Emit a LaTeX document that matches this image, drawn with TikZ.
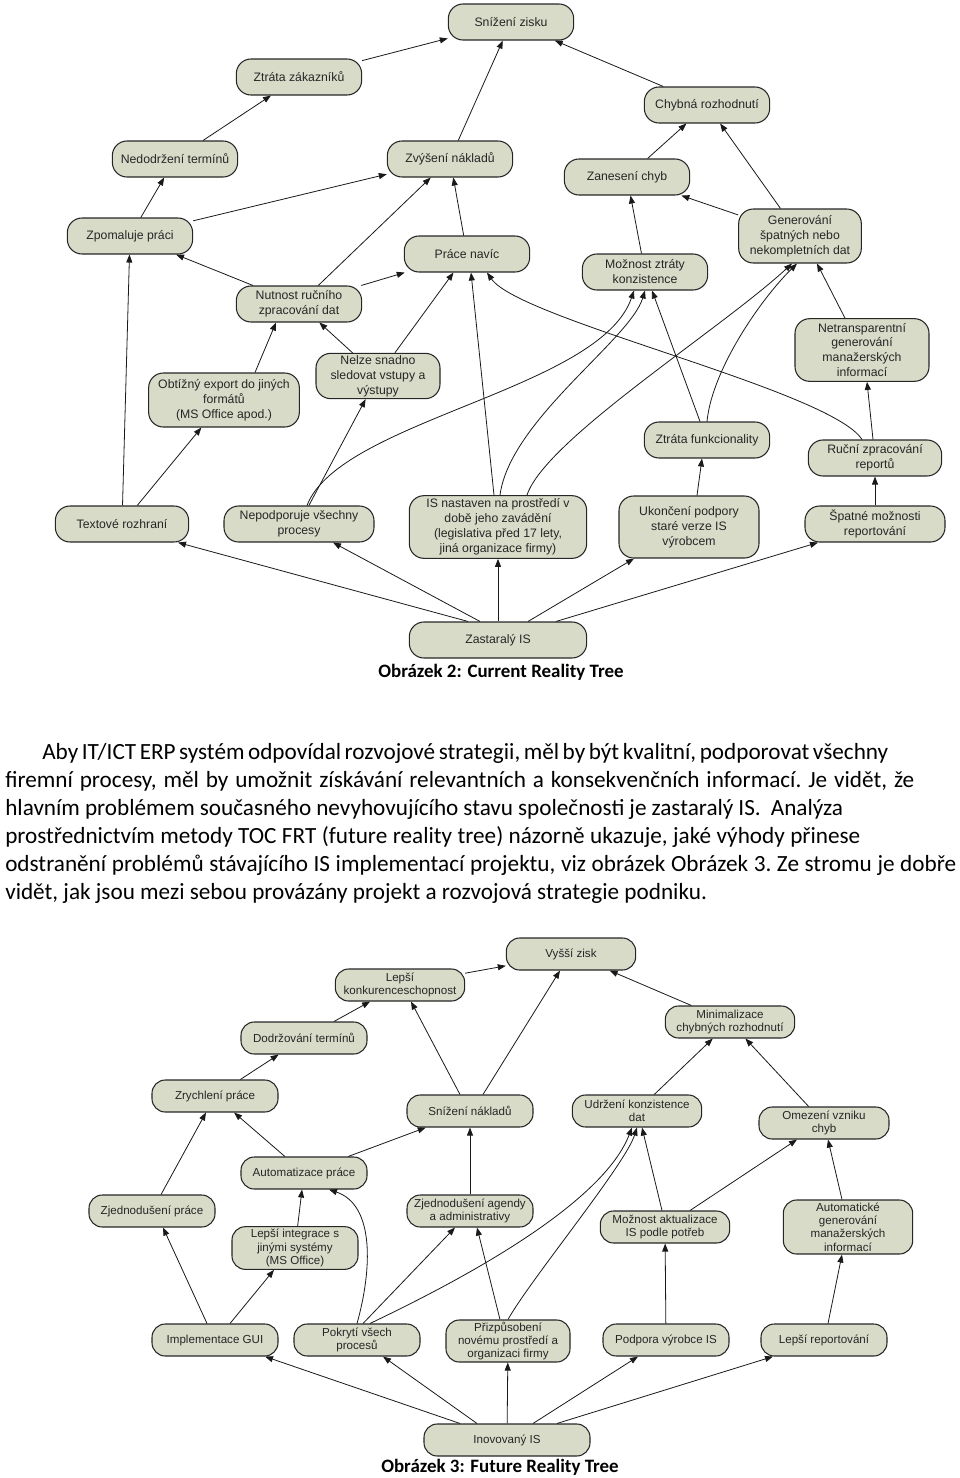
\documentclass[tikz,border=0pt]{standalone}
\usepackage{fontspec}
\setmainfont{Carlito}
\newfontfamily\arialfont{Liberation Sans}
\usetikzlibrary{arrows.meta,calc,positioning}
\definecolor{boxfill}{RGB}{217,219,201}
\tikzset{
	crt/.style={draw=black!85, line width=0.8pt, fill=boxfill, rounded corners=11pt,
		align=center, inner sep=1pt, minimum width=94pt, minimum height=27pt,
		text=black!85, font=\arialfont\fontsize{9.2}{11.2}\selectfont},
	frt/.style={crt, rounded corners=10pt, minimum width=94.5pt, minimum height=24pt,
		font=\arialfont\fontsize{8.7}{10}\selectfont},
	arr/.style={-{Triangle[length=6pt,width=4.5pt]}, line width=0.6pt, black!90},
	textline/.style={anchor=west, inner sep=0pt,
		font=\frenchspacing\fontsize{17.4}{21}\selectfont},
	figcap/.style={inner sep=0pt, font=\bfseries\fontsize{14.2}{17}\selectfont}
}
\begin{document}
\begin{tikzpicture}[x=0.75pt,y=-0.75pt]
	\useasboundingbox (0,0) rectangle (960,1478);

	% Current Reality Tree
	\node[crt] (zisk) at (511,22) {Snížení zisku};
	\node[crt] (zakaznici) at (299,77) {Ztráta zákazníků};
	\node[crt] (chybnarozh) at (707,105) {Chybná rozhodnutí};
	\node[crt] (nedodrzeni) at (175,159) {Nedodržení termínů};
	\node[crt] (naklady) at (450,159) {Zvýšení nákladů};
	\node[crt] (zaneseni) at (627,177) {Zanesení chyb};
	\node[crt] (zpomaluje) at (130,236) {Zpomaluje práci};
	\node[crt] (navic) at (467,254) {Práce navíc};
	\node[crt, minimum width=92pt, minimum height=40.5pt] (generovani) at (800,236) {Generování\\špatných nebo\\nekompletních dat};
	\node[crt] (konzistence) at (645,272) {Možnost ztráty\\konzistence};
	\node[crt] (rucni) at (299,304) {Nutnost ručního\\zpracování dat};
	\node[crt, minimum width=113pt, minimum height=40.5pt] (export) at (224,400) {Obtížný export do jiných\\formátů\\(MS Office apod.)};
	\node[crt, minimum width=93pt, minimum height=34pt, inner ysep=0pt] (sledovat) at (378,376) {Nelze snadno\\sledovat vstupy a\\výstupy};
	\node[crt, minimum width=100.5pt, minimum height=47pt, inner ysep=0pt] (netransp) at (862,350) {Netransparentní\\generování\\manažerských\\informací};
	\node[crt] (funkc) at (707,440) {Ztráta funkcionality};
	\node[crt, minimum width=100pt] (reporty) at (875,458) {Ruční zpracování\\reportů};
	\node[crt, minimum width=100pt] (textove) at (122,524) {Textové rozhraní};
	\node[crt, minimum width=112.5pt] (procesy) at (299,524) {Nepodporuje všechny\\procesy};
	\node[crt, minimum width=133pt, minimum height=47pt, inner ysep=0pt] (prostredi) at (498,527) {IS nastaven na prostředí v\\době jeho zavádění\\(legislativa před 17 lety,\\jiná organizace firmy)};
	\node[crt, minimum width=105pt, minimum height=46.5pt] (podpora) at (689,527) {Ukončení podpory\\staré verze IS\\výrobcem};
	\node[crt, minimum width=105pt] (reportovani) at (875,524) {Špatné možnosti\\reportování};
	\node[crt, minimum width=133pt] (zastaraly) at (498,640) {Zastaralý IS};

	\draw[arr] (zakaznici) -- (zisk);
	\draw[arr] (naklady) -- (zisk);
	\draw[arr] (chybnarozh) -- (zisk);
	\draw[arr] (nedodrzeni) -- (zakaznici);
	\draw[arr] (zpomaluje) -- (nedodrzeni);
	\draw[arr] (zpomaluje) -- (naklady);
	\draw[arr] (rucni) -- (zpomaluje);
	\draw[arr] (rucni) -- (naklady);
	\draw[arr] (rucni) -- (navic);
	\draw[arr] (navic) -- (naklady);
	\draw[arr] (zaneseni) -- (chybnarozh);
	\draw[arr] (generovani) -- (chybnarozh);
	\draw[arr] (generovani) -- (zaneseni);
	\draw[arr] (konzistence) -- (zaneseni);
	\draw[arr] ($(export.north)+(31,0)$) -- ($(rucni.south)+(-23,0)$);
	\draw[arr] (sledovat) -- (rucni);
	\draw[arr] (sledovat) -- (navic);
	\draw[arr] (textove) -- (zpomaluje);
	\draw[arr] (textove) -- (export);
	\draw[arr] (procesy) -- (sledovat);
	\draw[arr] ($(procesy.north)+(8,0)$) .. controls (340,420) and (600,390) .. ($(konzistence.south)+(-11,0)$);
	\draw[arr] ($(prostredi.north)+(-4,0)$) -- ($(navic.south)+(4,0)$);
	\draw[arr] ($(prostredi.north)+(2,0)$) .. controls (510,420) and (630,340) .. (konzistence.south);
	\draw[arr] ($(prostredi.north)+(29,0)$) .. controls (545,440) and (720,330) .. ($(generovani.south)+(-8,0)$);
	\draw[arr] ($(funkc.north)+(-7,0)$) -- ($(konzistence.south)+(7,0)$);
	\draw[arr] (funkc.north) .. controls (712,370) and (760,300) .. ($(generovani.south)+(-3,0)$);
	\draw[arr] ($(reporty.north)+(-13,0)$) .. controls (830,390) and (520,320) .. ($(navic.south)+(20,0)$);
	\draw[arr] ($(reporty.north)+(-2,0)$) -- ($(netransp.south)+(5,0)$);
	\draw[arr] ($(netransp.north)+(-17,0)$) -- ($(generovani.south)+(17,0)$);
	\draw[arr] (reportovani) -- (reporty);
	\draw[arr] ($(podpora.north)+(8,0)$) -- ($(funkc.south)+(-5,0)$);
	\draw[arr] ($(zastaraly.north)+(-30,0)$) -- ($(textove.south)+(56,0)$);
	\draw[arr] ($(zastaraly.north)+(-18,0)$) -- ($(procesy.south)+(34,0)$);
	\draw[arr] (zastaraly) -- (prostredi);
	\draw[arr] ($(zastaraly.north)+(30,0)$) -- ($(podpora.south)+(-55,0)$);
	\draw[arr] ($(zastaraly.north)+(58,0)$) -- ($(reportovani.south)+(-57,0)$);

	\node[figcap] (cap1) at (501,672) {Obrázek 2: Current Reality Tree};

	% text
	\node[textline] (r1) at (42,754) {\strut\makebox[634.5pt][s]{Aby IT/ICT ERP systém odpovídal rozvojové strategii, měl by být kvalitní, podporovat všechny}};
	\node[textline] (r2) at (5,782) {\strut\makebox[681.75pt][s]{firemní procesy, měl by umožnit získávání relevantních a konsekvenčních informací. Je vidět, že}};
	\node[textline] (r3) at (5,810) {\strut\makebox[628.5pt][s]{hlavním problémem současného nevyhovujícího stavu společnosti je zastaralý IS.~~Analýza}};
	\node[textline] (r4) at (5,838) {\strut\makebox[641.25pt][s]{prostřednictvím metody TOC FRT (future reality tree) názorně ukazuje, jaké výhody přinese}};
	\node[textline] (r5) at (5,866) {\strut\makebox[713.25pt][s]{odstranění problémů stávajícího IS implementací projektu, viz obrázek Obrázek 3. Ze stromu je dobře}};
	\node[textline] (r6) at (5,894) {\strut vidět, jak jsou mezi sebou provázány projekt a rozvojová strategie podniku.};

	% Future Reality Tree
	\node[frt, minimum width=97pt] (vyssi) at (571,954) {Vyšší zisk};
	\node[frt, minimum width=97pt] (konkurence) at (400,985) {Lepší\\konkurenceschopnost};
	\node[frt] (dodrzovani) at (304,1038) {Dodržování termínů};
	\node[frt, minimum width=97pt] (minimalizace) at (730,1022) {Minimalizace\\chybných rozhodnutí};
	\node[frt] (zrychleni) at (215,1096) {Zrychlení práce};
	\node[frt] (snizeni) at (470,1111) {Snížení nákladů};
	\node[frt, minimum width=97pt] (udrzeni) at (637,1111) {Udržení konzistence\\dat};
	\node[frt, minimum width=97.5pt] (omezeni) at (824,1123) {Omezení vzniku\\chyb};
	\node[frt] (automatizace) at (304,1173) {Automatizace práce};
	\node[frt] (zjedprace) at (152,1211) {Zjednodušení práce};
	\node[frt] (agenda) at (470,1211) {Zjednodušení agendy\\a administrativy};
	\node[frt, minimum height=32pt] (integrace) at (295,1248) {Lepší integrace s\\jinými systémy\\(MS Office)};
	\node[frt, minimum width=97pt] (aktualizace) at (665,1227) {Možnost aktualizace\\IS podle potřeb};
	\node[frt, minimum width=97pt, minimum height=40.5pt, inner ysep=0pt] (autogen) at (848,1227) {Automatické\\generování\\manažerských\\informací};
	\node[frt] (gui) at (215,1340) {Implementace GUI};
	\node[frt] (pokryti) at (357,1340) {Pokrytí všech\\procesů};
	\node[frt, minimum width=93pt, minimum height=31.5pt] (prizpusobeni) at (508,1341) {Přizpůsobení\\novému prostředí a\\organizaci firmy};
	\node[frt] (vyrobce) at (666,1340) {Podpora výrobce IS};
	\node[frt] (reportovani2) at (824,1340) {Lepší reportování};
	\node[frt, minimum width=124.5pt] (inovovany) at (507,1440) {Inovovaný IS};

	\draw[arr] (konkurence) -- (vyssi);
	\draw[arr] ($(snizeni.north)+(13,0)$) -- ($(vyssi.south)+(-11,0)$);
	\draw[arr] ($(snizeni.north)+(-10,0)$) -- ($(konkurence.south)+(11,0)$);
	\draw[arr] (minimalizace) -- (vyssi);
	\draw[arr] (dodrzovani) -- (konkurence);
	\draw[arr] (zrychleni) -- (dodrzovani);
	\draw[arr] (udrzeni) -- (minimalizace);
	\draw[arr] (omezeni) -- (minimalizace);
	\draw[arr] (zjedprace) -- (zrychleni);
	\draw[arr] (automatizace) -- (zrychleni);
	\draw[arr] (automatizace) -- (snizeni);
	\draw[arr] (agenda) -- (snizeni);
	\draw[arr] (integrace) -- (automatizace);
	\draw[arr] (pokryti.north) .. controls (372,1270) and (375,1205) .. ($(automatizace.south)+(25,0)$);
	\draw[arr] ($(pokryti.north)+(6,0)$) -- ($(agenda.south)+(-15,0)$);
	\draw[arr] ($(pokryti.north)+(13,0)$) .. controls (440,1290) and (600,1210) .. ($(udrzeni.south)+(-5,0)$);
	\draw[arr] ($(prizpusobeni.north)+(-8,0)$) -- ($(agenda.south)+(7,0)$);
	\draw[arr] (prizpusobeni.north) .. controls (530,1280) and (625,1165) .. (udrzeni.south);
	\draw[arr] ($(aktualizace.north)+(-3,0)$) -- ($(udrzeni.south)+(5,0)$);
	\draw[arr] ($(aktualizace.north)+(25,0)$) -- ($(omezeni.south)+(-27,0)$);
	\draw[arr] ($(autogen.north)+(-6,0)$) -- ($(omezeni.south)+(4,0)$);
	\draw[arr] ($(gui.north)+(-8,0)$) -- ($(zjedprace.south)+(11,0)$);
	\draw[arr] ($(gui.north)+(15,0)$) -- ($(integrace.south)+(-21,0)$);
	\draw[arr] (vyrobce) -- (aktualizace);
	\draw[arr] ($(reportovani2.north)+(4,0)$) -- ($(autogen.south)+(-6,0)$);
	\draw[arr] ($(inovovany.north)+(-47,0)$) -- ($(gui.south)+(50,0)$);
	\draw[arr] ($(inovovany.north)+(-30,0)$) -- ($(pokryti.south)+(26,0)$);
	\draw[arr] (inovovany) -- (prizpusobeni);
	\draw[arr] ($(inovovany.north)+(26,0)$) -- ($(vyrobce.south)+(-28,0)$);
	\draw[arr] ($(inovovany.north)+(50,0)$) -- ($(reportovani2.south)+(-51,0)$);

	\node[figcap] (cap2) at (500,1467) {Obrázek 3: Future Reality Tree};
\end{tikzpicture}
\end{document}
